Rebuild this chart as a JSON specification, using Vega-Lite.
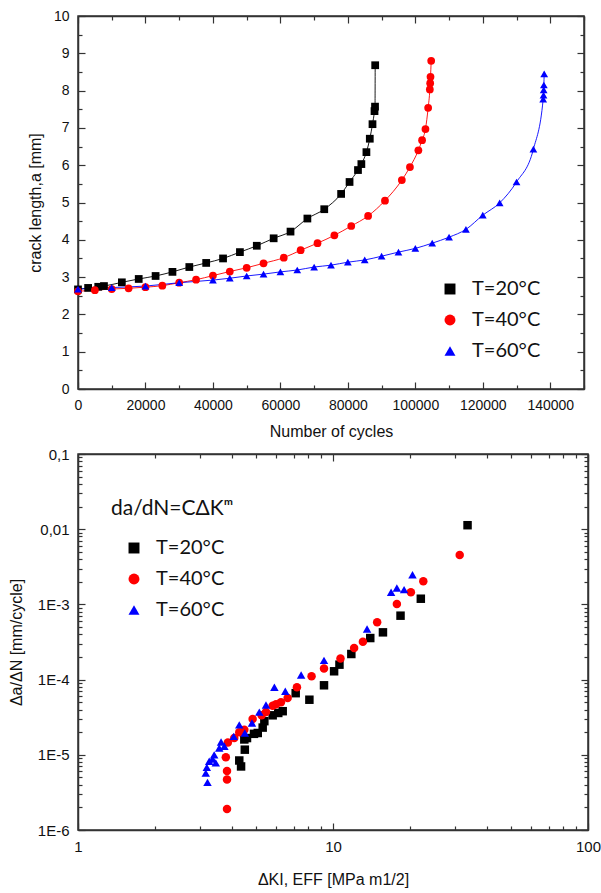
{
  "$schema": "https://vega.github.io/schema/vega-lite/v6.json",
  "background": "white",
  "padding": {"left": 7, "top": 8, "right": 0, "bottom": 0},
  "bounds": "flush",
  "spacing": 65,
  "resolve": {"scale": {"color": "independent", "shape": "independent"}, "legend": {"color": "independent", "shape": "independent"}},
  "config": {
    "view": {"stroke": "#333", "strokeWidth": 1.5},
    "axis": {"grid": false, "domainColor": "#333", "domainWidth": 1.5, "tickColor": "#333", "tickWidth": 1.2,
      "labelFont": "Liberation Sans", "labelFontSize": 14, "labelColor": "#111", "labelOverlap": false, "labelFlush": false,
      "titleFont": "Liberation Sans", "titleFontSize": 16, "titleFontWeight": "normal", "titleColor": "#111"},
    "legend": {"labelFont": "Lato", "labelFontSize": 20, "labelColor": "#111", "titleFont": "Lato", "titleFontSize": 21, "titleFontWeight": "normal", "titleColor": "#111"}
  },
  "datasets": {
    "crack": [
      {"T": "T=20°C", "N": 0, "a": 2.67}, {"T": "T=20°C", "N": 3000, "a": 2.71}, {"T": "T=20°C", "N": 6000, "a": 2.74}, {"T": "T=20°C", "N": 7700, "a": 2.76},
      {"T": "T=20°C", "N": 13000, "a": 2.86}, {"T": "T=20°C", "N": 18000, "a": 2.95}, {"T": "T=20°C", "N": 23000, "a": 3.03}, {"T": "T=20°C", "N": 28000, "a": 3.14},
      {"T": "T=20°C", "N": 33000, "a": 3.27}, {"T": "T=20°C", "N": 38000, "a": 3.38}, {"T": "T=20°C", "N": 43000, "a": 3.5}, {"T": "T=20°C", "N": 48000, "a": 3.67},
      {"T": "T=20°C", "N": 53000, "a": 3.84}, {"T": "T=20°C", "N": 58000, "a": 4.04}, {"T": "T=20°C", "N": 63000, "a": 4.22}, {"T": "T=20°C", "N": 68000, "a": 4.57},
      {"T": "T=20°C", "N": 73000, "a": 4.82}, {"T": "T=20°C", "N": 78000, "a": 5.23}, {"T": "T=20°C", "N": 80500, "a": 5.55}, {"T": "T=20°C", "N": 83000, "a": 5.87},
      {"T": "T=20°C", "N": 84000, "a": 6.03}, {"T": "T=20°C", "N": 85500, "a": 6.35}, {"T": "T=20°C", "N": 86500, "a": 6.71}, {"T": "T=20°C", "N": 87300, "a": 7.1},
      {"T": "T=20°C", "N": 87900, "a": 7.45}, {"T": "T=20°C", "N": 88050, "a": 7.57}, {"T": "T=20°C", "N": 88100, "a": 8.68},
      {"T": "T=40°C", "N": 0, "a": 2.62}, {"T": "T=40°C", "N": 5000, "a": 2.65}, {"T": "T=40°C", "N": 10000, "a": 2.68}, {"T": "T=40°C", "N": 15000, "a": 2.7},
      {"T": "T=40°C", "N": 20000, "a": 2.73}, {"T": "T=40°C", "N": 25000, "a": 2.77}, {"T": "T=40°C", "N": 30000, "a": 2.85}, {"T": "T=40°C", "N": 35000, "a": 2.93},
      {"T": "T=40°C", "N": 40000, "a": 3.04}, {"T": "T=40°C", "N": 45000, "a": 3.15}, {"T": "T=40°C", "N": 50000, "a": 3.25}, {"T": "T=40°C", "N": 55000, "a": 3.37},
      {"T": "T=40°C", "N": 61000, "a": 3.52}, {"T": "T=40°C", "N": 66000, "a": 3.72}, {"T": "T=40°C", "N": 71000, "a": 3.91}, {"T": "T=40°C", "N": 76000, "a": 4.12},
      {"T": "T=40°C", "N": 81000, "a": 4.37}, {"T": "T=40°C", "N": 86000, "a": 4.64}, {"T": "T=40°C", "N": 91000, "a": 5.05}, {"T": "T=40°C", "N": 96000, "a": 5.6},
      {"T": "T=40°C", "N": 98400, "a": 5.95}, {"T": "T=40°C", "N": 100900, "a": 6.4}, {"T": "T=40°C", "N": 102000, "a": 6.67}, {"T": "T=40°C", "N": 103000, "a": 6.97},
      {"T": "T=40°C", "N": 103800, "a": 7.54}, {"T": "T=40°C", "N": 104300, "a": 8.03}, {"T": "T=40°C", "N": 104400, "a": 8.2}, {"T": "T=40°C", "N": 104500, "a": 8.37},
      {"T": "T=40°C", "N": 104700, "a": 8.8},
      {"T": "T=60°C", "N": 0, "a": 2.68}, {"T": "T=60°C", "N": 10000, "a": 2.72}, {"T": "T=60°C", "N": 20000, "a": 2.76}, {"T": "T=60°C", "N": 30000, "a": 2.85},
      {"T": "T=60°C", "N": 40000, "a": 2.92}, {"T": "T=60°C", "N": 45000, "a": 2.97}, {"T": "T=60°C", "N": 50000, "a": 3.03}, {"T": "T=60°C", "N": 55000, "a": 3.08},
      {"T": "T=60°C", "N": 60000, "a": 3.14}, {"T": "T=60°C", "N": 65000, "a": 3.19}, {"T": "T=60°C", "N": 70000, "a": 3.27}, {"T": "T=60°C", "N": 75000, "a": 3.32},
      {"T": "T=60°C", "N": 80000, "a": 3.4}, {"T": "T=60°C", "N": 85000, "a": 3.46}, {"T": "T=60°C", "N": 90000, "a": 3.56}, {"T": "T=60°C", "N": 95000, "a": 3.67},
      {"T": "T=60°C", "N": 100000, "a": 3.77}, {"T": "T=60°C", "N": 105000, "a": 3.91}, {"T": "T=60°C", "N": 110000, "a": 4.07}, {"T": "T=60°C", "N": 115000, "a": 4.28},
      {"T": "T=60°C", "N": 120000, "a": 4.66}, {"T": "T=60°C", "N": 125000, "a": 4.99}, {"T": "T=60°C", "N": 130000, "a": 5.55}, {"T": "T=60°C", "N": 135000, "a": 6.43},
      {"T": "T=60°C", "N": 137900, "a": 7.77}, {"T": "T=60°C", "N": 138000, "a": 7.88}, {"T": "T=60°C", "N": 138050, "a": 8.02}, {"T": "T=60°C", "N": 138100, "a": 8.15},
      {"T": "T=60°C", "N": 138200, "a": 8.45}
    ],
    "rate": [
      {"T": "T=20°C", "K": 33.7, "v": 0.0113}, {"T": "T=20°C", "K": 22.1, "v": 0.00119}, {"T": "T=20°C", "K": 18.4, "v": 0.000708}, {"T": "T=20°C", "K": 15.7, "v": 0.000425},
      {"T": "T=20°C", "K": 14.0, "v": 0.000357}, {"T": "T=20°C", "K": 11.8, "v": 0.000219}, {"T": "T=20°C", "K": 10.6, "v": 0.000158}, {"T": "T=20°C", "K": 10.1, "v": 0.000129},
      {"T": "T=20°C", "K": 9.22, "v": 0.000084}, {"T": "T=20°C", "K": 8.08, "v": 0.000054}, {"T": "T=20°C", "K": 7.14, "v": 0.000066}, {"T": "T=20°C", "K": 6.35, "v": 0.000038},
      {"T": "T=20°C", "K": 6.1, "v": 0.000036}, {"T": "T=20°C", "K": 5.8, "v": 0.0000335}, {"T": "T=20°C", "K": 5.38, "v": 0.000028}, {"T": "T=20°C", "K": 5.3, "v": 0.000023},
      {"T": "T=20°C", "K": 5.07, "v": 0.0000195}, {"T": "T=20°C", "K": 4.9, "v": 0.000019}, {"T": "T=20°C", "K": 4.6, "v": 0.0000167}, {"T": "T=20°C", "K": 4.49, "v": 0.000016},
      {"T": "T=20°C", "K": 4.51, "v": 0.0000117}, {"T": "T=20°C", "K": 4.29, "v": 0.0000084}, {"T": "T=20°C", "K": 4.36, "v": 0.000007},
      {"T": "T=40°C", "K": 31.4, "v": 0.00454}, {"T": "T=40°C", "K": 22.6, "v": 0.00203}, {"T": "T=40°C", "K": 20.2, "v": 0.00145}, {"T": "T=40°C", "K": 17.8, "v": 0.00101},
      {"T": "T=40°C", "K": 14.9, "v": 0.000578}, {"T": "T=40°C", "K": 13.1, "v": 0.000319}, {"T": "T=40°C", "K": 12.1, "v": 0.000263}, {"T": "T=40°C", "K": 10.7, "v": 0.000191},
      {"T": "T=40°C", "K": 9.22, "v": 0.00014}, {"T": "T=40°C", "K": 8.24, "v": 0.000111}, {"T": "T=40°C", "K": 7.22, "v": 0.000079}, {"T": "T=40°C", "K": 6.64, "v": 0.000057},
      {"T": "T=40°C", "K": 6.25, "v": 0.00005}, {"T": "T=40°C", "K": 5.98, "v": 0.000047}, {"T": "T=40°C", "K": 5.8, "v": 0.000045}, {"T": "T=40°C", "K": 5.46, "v": 0.000037},
      {"T": "T=40°C", "K": 5.25, "v": 0.0000335}, {"T": "T=40°C", "K": 4.84, "v": 0.00003}, {"T": "T=40°C", "K": 4.49, "v": 0.0000216}, {"T": "T=40°C", "K": 4.29, "v": 0.00002},
      {"T": "T=40°C", "K": 4.1, "v": 0.0000167}, {"T": "T=40°C", "K": 3.87, "v": 0.0000146}, {"T": "T=40°C", "K": 3.8, "v": 0.0000093}, {"T": "T=40°C", "K": 3.84, "v": 0.0000061},
      {"T": "T=40°C", "K": 3.84, "v": 0.0000047}, {"T": "T=40°C", "K": 3.84, "v": 0.0000019},
      {"T": "T=60°C", "K": 20.5, "v": 0.00248}, {"T": "T=60°C", "K": 19.0, "v": 0.00157}, {"T": "T=60°C", "K": 17.8, "v": 0.00165}, {"T": "T=60°C", "K": 16.9, "v": 0.00145},
      {"T": "T=60°C", "K": 13.6, "v": 0.000471}, {"T": "T=60°C", "K": 9.22, "v": 0.00018}, {"T": "T=60°C", "K": 7.5, "v": 0.000115}, {"T": "T=60°C", "K": 6.5, "v": 0.00007},
      {"T": "T=60°C", "K": 5.89, "v": 0.000079}, {"T": "T=60°C", "K": 5.46, "v": 0.000046}, {"T": "T=60°C", "K": 5.14, "v": 0.000037}, {"T": "T=60°C", "K": 4.81, "v": 0.0000265},
      {"T": "T=60°C", "K": 4.51, "v": 0.0000195}, {"T": "T=60°C", "K": 4.29, "v": 0.000025}, {"T": "T=60°C", "K": 4.08, "v": 0.0000176}, {"T": "T=60°C", "K": 3.64, "v": 0.0000148},
      {"T": "T=60°C", "K": 3.75, "v": 0.000013}, {"T": "T=60°C", "K": 3.58, "v": 0.0000123}, {"T": "T=60°C", "K": 3.42, "v": 0.00001}, {"T": "T=60°C", "K": 3.37, "v": 0.0000088},
      {"T": "T=60°C", "K": 3.27, "v": 0.0000082}, {"T": "T=60°C", "K": 3.47, "v": 0.0000078}, {"T": "T=60°C", "K": 3.2, "v": 0.0000068}, {"T": "T=60°C", "K": 3.17, "v": 0.0000057},
      {"T": "T=60°C", "K": 3.22, "v": 0.0000043}
    ]
  },
  "vconcat": [
    {
      "width": 506, "height": 373,
      "data": {"name": "crack"},
      "layer": [
        {
          "mark": {"type": "line", "strokeWidth": 0.9, "interpolate": "monotone"},
          "encoding": {
            "x": {"field": "N", "type": "quantitative", "scale": {"domain": [0, 150000], "nice": false},
              "axis": {"orient": "bottom", "values": [0, 10000, 20000, 30000, 40000, 50000, 60000, 70000, 80000, 90000, 100000, 110000, 120000, 130000, 140000, 150000],
                "labelExpr": "datum.value % 20000 === 0 && datum.value < 150000 ? format(datum.value, 'd') : ''",
                "tickSize": {"condition": {"test": "datum.value % 20000 === 0", "value": -7}, "value": -4},
                "labelPadding": 16, "title": "Number of cycles", "titlePadding": 8}},
            "y": {"field": "a", "type": "quantitative", "scale": {"domain": [0, 10], "nice": false},
              "axis": {"orient": "left", "values": [0, 0.5, 1, 1.5, 2, 2.5, 3, 3.5, 4, 4.5, 5, 5.5, 6, 6.5, 7, 7.5, 8, 8.5, 9, 9.5, 10],
                "labelExpr": "datum.value % 1 === 0 ? format(datum.value, 'd') : ''",
                "tickSize": {"condition": {"test": "datum.value % 1 === 0", "value": -7}, "value": -4},
                "labelPadding": 16, "title": "crack length,a [mm]", "titlePadding": 10}},
            "stroke": {"field": "T", "type": "nominal", "scale": {"domain": ["T=20°C", "T=40°C", "T=60°C"], "range": ["#000000", "#ff0000", "#0000ff"]}, "legend": null}
          }
        },
        {
          "mark": {"type": "point", "filled": true, "opacity": 1, "size": 60},
          "encoding": {
            "x": {"field": "N", "type": "quantitative",
              "axis": {"orient": "top", "values": [0, 10000, 20000, 30000, 40000, 50000, 60000, 70000, 80000, 90000, 100000, 110000, 120000, 130000, 140000, 150000],
                "labels": false, "title": null,
                "tickSize": {"condition": {"test": "datum.value % 20000 === 0", "value": -7}, "value": -4}}},
            "y": {"field": "a", "type": "quantitative",
              "axis": {"orient": "right", "values": [0, 0.5, 1, 1.5, 2, 2.5, 3, 3.5, 4, 4.5, 5, 5.5, 6, 6.5, 7, 7.5, 8, 8.5, 9, 9.5, 10],
                "labels": false, "title": null,
                "tickSize": {"condition": {"test": "datum.value % 1 === 0", "value": -7}, "value": -4}}},
            "color": {"field": "T", "type": "nominal", "scale": {"domain": ["T=20°C", "T=40°C", "T=60°C"], "range": ["#000000", "#ff0000", "#0000ff"]},
              "legend": {"orient": "none", "legendX": 362, "legendY": 263, "title": null, "symbolSize": 120, "rowPadding": 11, "labelOffset": 12, "padding": 0}},
            "shape": {"field": "T", "type": "nominal", "scale": {"domain": ["T=20°C", "T=40°C", "T=60°C"], "range": ["square", "circle", "triangle-up"]},
              "legend": {"orient": "none", "legendX": 362, "legendY": 263, "title": null, "symbolSize": 120, "rowPadding": 11, "labelOffset": 12, "padding": 0}}
          }
        }
      ],
      "resolve": {"axis": {"x": "independent", "y": "independent"}}
    },
    {
      "width": 510, "height": 376,
      "data": {"name": "rate"},
      "layer": [
        {
          "mark": {"type": "point", "filled": true, "opacity": 0, "size": 10},
          "encoding": {
            "x": {"field": "K", "type": "quantitative", "scale": {"type": "log", "domain": [1, 100], "nice": false},
              "axis": {"orient": "bottom", "values": [1, 2, 3, 4, 5, 6, 7, 8, 9, 10, 20, 30, 40, 50, 60, 70, 80, 90, 100],
                "labelExpr": "datum.value === 1 || datum.value === 10 || datum.value === 100 ? datum.value + '' : ''",
                "tickSize": {"condition": {"test": "datum.value === 1 || datum.value === 10 || datum.value === 100", "value": -7}, "value": -4},
                "labelFontSize": 15, "labelPadding": 16, "title": "ΔKI, EFF [MPa m1/2]", "titlePadding": 14}},
            "y": {"field": "v", "type": "quantitative", "scale": {"type": "log", "domain": [0.000001, 0.1], "nice": false},
              "axis": {"orient": "left",
                "values": [0.000001, 0.000002, 0.000003, 0.000004, 0.000005, 0.000006, 0.000007, 0.000008, 0.000009,
                  0.00001, 0.00002, 0.00003, 0.00004, 0.00005, 0.00006, 0.00007, 0.00008, 0.00009,
                  0.0001, 0.0002, 0.0003, 0.0004, 0.0005, 0.0006, 0.0007, 0.0008, 0.0009,
                  0.001, 0.002, 0.003, 0.004, 0.005, 0.006, 0.007, 0.008, 0.009,
                  0.01, 0.02, 0.03, 0.04, 0.05, 0.06, 0.07, 0.08, 0.09, 0.1],
                "labelExpr": "abs(log(datum.value)/LN10 - round(log(datum.value)/LN10)) < 0.01 ? (round(log(datum.value)/LN10) == -1 ? '0,1' : round(log(datum.value)/LN10) == -2 ? '0,01' : '1E' + round(log(datum.value)/LN10)) : ''",
                "tickSize": {"condition": {"test": "abs(log(datum.value)/LN10 - round(log(datum.value)/LN10)) < 0.01", "value": -7}, "value": -4},
                "labelFontSize": 15, "labelPadding": 16, "title": "Δa/ΔN [mm/cycle]", "titlePadding": 13}}
          }
        },
        {
          "mark": {"type": "point", "filled": true, "opacity": 1, "size": 72},
          "encoding": {
            "x": {"field": "K", "type": "quantitative",
              "axis": {"orient": "top", "values": [1, 2, 3, 4, 5, 6, 7, 8, 9, 10, 20, 30, 40, 50, 60, 70, 80, 90, 100], "labels": false, "title": null,
                "tickSize": {"condition": {"test": "datum.value === 1 || datum.value === 10 || datum.value === 100", "value": -7}, "value": -4}}},
            "y": {"field": "v", "type": "quantitative",
              "axis": {"orient": "right", "labels": false, "title": null,
                "values": [0.000001, 0.000002, 0.000003, 0.000004, 0.000005, 0.000006, 0.000007, 0.000008, 0.000009,
                  0.00001, 0.00002, 0.00003, 0.00004, 0.00005, 0.00006, 0.00007, 0.00008, 0.00009,
                  0.0001, 0.0002, 0.0003, 0.0004, 0.0005, 0.0006, 0.0007, 0.0008, 0.0009,
                  0.001, 0.002, 0.003, 0.004, 0.005, 0.006, 0.007, 0.008, 0.009,
                  0.01, 0.02, 0.03, 0.04, 0.05, 0.06, 0.07, 0.08, 0.09, 0.1],
                "tickSize": {"condition": {"test": "abs(log(datum.value)/LN10 - round(log(datum.value)/LN10)) < 0.01", "value": -7}, "value": -4}}},
            "color": {"field": "T", "type": "nominal", "scale": {"domain": ["T=20°C", "T=40°C", "T=60°C"], "range": ["#000000", "#ff0000", "#0000ff"]},
              "legend": {"orient": "none", "legendX": 33, "legendY": 44, "title": "da/dN=CΔKᵐ", "titlePadding": 19, "symbolOffset": 13, "symbolSize": 120, "rowPadding": 11, "labelOffset": 12, "padding": 0}},
            "shape": {"field": "T", "type": "nominal", "scale": {"domain": ["T=20°C", "T=40°C", "T=60°C"], "range": ["square", "circle", "triangle-up"]},
              "legend": {"orient": "none", "legendX": 33, "legendY": 44, "title": "da/dN=CΔKᵐ", "titlePadding": 19, "symbolOffset": 13, "symbolSize": 120, "rowPadding": 11, "labelOffset": 12, "padding": 0}}
          }
        }
      ],
      "resolve": {"axis": {"x": "independent", "y": "independent"}}
    }
  ]
}
